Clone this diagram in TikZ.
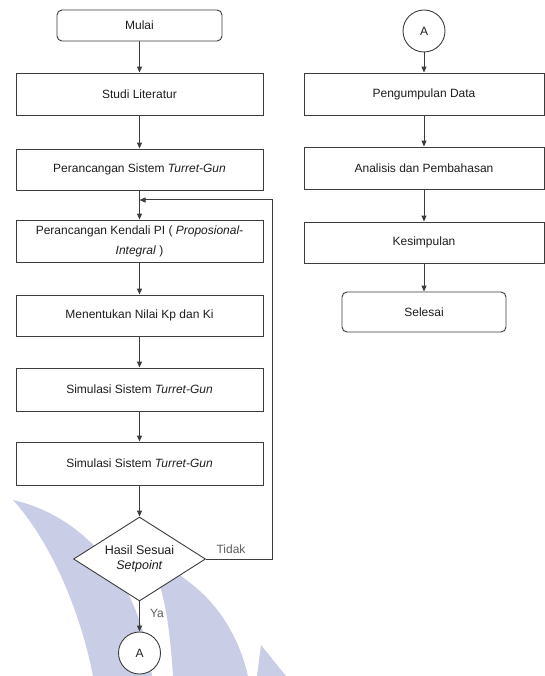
\documentclass[tikz,border=0pt]{standalone}
\usepackage{fontspec}
\setmainfont{Liberation Sans}
\usetikzlibrary{shapes.geometric,arrows.meta}
\definecolor{wm}{RGB}{201,206,230}
\definecolor{ln}{RGB}{60,60,60}
\definecolor{tx}{RGB}{30,30,30}
\definecolor{lbl}{RGB}{95,95,95}
\begin{document}
\begin{tikzpicture}[x=1pt,y=-1pt,
  box/.style={draw=ln, line width=0.9pt, fill=white, minimum width=247pt, minimum height=42pt,
    inner sep=0pt, text=tx, font=\fontsize{12}{20}\selectfont, align=center},
  rbox/.style={box, minimum width=240pt},
  term/.style={box, rounded corners=5pt, minimum width=165pt, minimum height=31pt},
  conn/.style={draw=ln, line width=0.9pt, fill=white, circle, minimum size=42pt, inner sep=0pt,
    text=tx, font=\fontsize{12}{14}\selectfont},
  dec/.style={draw=ln, line width=0.9pt, fill=white, diamond, aspect=1.57, minimum width=132pt,
    minimum height=84pt, inner sep=0pt, text=tx, font=\fontsize{12.5}{15.5}\selectfont, align=center},
  arr/.style={draw=ln, line width=1pt, -{Triangle[length=6pt,width=5pt]}},
  lab/.style={text=lbl, font=\fontsize{12}{14}\selectfont, inner sep=0pt}]
\useasboundingbox (0,0) rectangle (544,676);
\fill[white] (0,0) rectangle (544,676);
% watermark
\fill[wm] (13,500) .. controls (80,515) and (140,575) .. (152,676) -- (93,676)
  .. controls (78,600) and (45,535) .. (13,500) -- cycle;
\fill[wm] (150,560) .. controls (200,580) and (235,620) .. (248,676) -- (173,676)
  .. controls (170,630) and (165,590) .. (150,560) -- cycle;
\fill[wm] (261,645) -- (286,676) -- (257,676) -- cycle;
% left column
\node[term] (mulai) at (139.5,25.5) {Mulai};
\node[box] (studi) at (139.5,94) {Studi Literatur};
\node[box, minimum height=41pt] (sistem) at (139.5,169.5) {Perancangan Sistem \textit{Turret-Gun}};
\node[box] (pi) at (139.5,241) {Perancangan Kendali PI ( \textit{Proposional-}\\\textit{Integral} )};
\node[box, minimum height=41pt] (kpki) at (139.5,315.5) {Menentukan Nilai Kp dan Ki};
\node[box, minimum height=43pt] (sim1) at (139.5,389.5) {Simulasi Sistem \textit{Turret-Gun}};
\node[box, minimum height=43pt] (sim2) at (139.5,463.5) {Simulasi Sistem \textit{Turret-Gun}};
\node[dec] (hasil) at (139.5,559) {Hasil Sesuai\\\textit{Setpoint}};
\node[conn] (a1) at (139.5,653) {A};
\coordinate (fbtop) at (272,200);
\draw[arr] (mulai) -- (studi);
\draw[arr] (studi) -- (sistem);
\draw[arr] (sistem) -- (pi);
\draw[arr] (pi) -- (kpki);
\draw[arr] (kpki) -- (sim1);
\draw[arr] (sim1) -- (sim2);
\draw[arr] (sim2) -- (hasil);
\draw[arr] (hasil) -- (a1);
\draw[arr] (hasil.east) -| (fbtop) -- (sistem.south |- fbtop);
\node[lab] (tidak) at (231,549) {Tidak};
\node[lab] (ya) at (157,613) {Ya};
% right column
\node[conn] (a2) at (424,31) {A};
\node[rbox] (peng) at (424,94) {Pengumpulan Data};
\node[rbox] (anal) at (424,168) {Analisis dan Pembahasan};
\node[rbox, minimum height=41pt] (kes) at (424,242.5) {Kesimpulan};
\node[term, minimum width=164pt, minimum height=40pt] (sel) at (424,312) {Selesai};
\draw[arr] (a2) -- (peng);
\draw[arr] (peng) -- (anal);
\draw[arr] (anal) -- (kes);
\draw[arr] (kes) -- (sel);
\end{tikzpicture}
\end{document}
